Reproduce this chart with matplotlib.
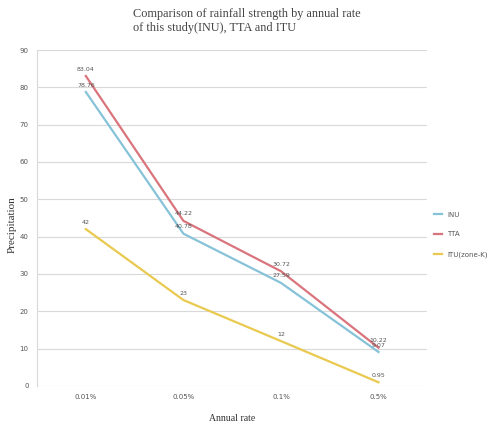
import matplotlib.pyplot as plt

rates = ["0.01%", "0.05%", "0.1%", "0.5%"]
inu = [78.76, 40.78, 27.59, 9.07]
tta = [83.04, 44.22, 30.72, 10.22]
itu = [42, 23, 12, 0.95]

series = [
    ("INU", inu, "#86c3d9"),
    ("TTA", tta, "#d9747c"),
    ("ITU(zone-K)", itu, "#e9c94f"),
]

fig = plt.figure(figsize=(4.94, 4.24), dpi=100)
ax = fig.add_axes([0.075, 0.09, 0.79, 0.792])

x = range(len(rates))
for name, vals, col in series:
    ax.plot(x, vals, color=col, lw=1.6, label=name)
    for xi, v in zip(x, vals):
        ax.annotate(f"{v:g}", (xi, v), xytext=(0, 5), textcoords="offset points",
                    ha="center", va="center", fontsize=4.5, color="#555555")

ax.set_xlim(-0.5, 3.5)
ax.set_ylim(0, 90)
ax.set_yticks(range(0, 91, 10))
ax.set_xticks(list(x))
ax.set_xticklabels(rates)
ax.tick_params(labelsize=5, colors="#555555", length=0, pad=6)
ax.grid(axis="y", color="#d9d9d9", lw=0.8)
ax.set_axisbelow(True)
for s in ["top", "right", "bottom"]:
    ax.spines[s].set_visible(False)
ax.spines["left"].set_color("#d9d9d9")

fig.text(0.025, 0.47, "Precipitation", family="Liberation Serif", fontsize=8,
         color="#333333", rotation=90, ha="center", va="center")
fig.text(0.47, 0.012, "Annual rate", family="Liberation Serif", fontsize=7,
         color="#333333", ha="center", va="center")

fig.text(0.27, 0.951, "Comparison of rainfall strength by annual rate\nof this study(INU), TTA and ITU",
         family="Liberation Serif", fontsize=8.8, color="#444444", ha="left", va="center", linespacing=1.25)

ax.legend(loc="center left", bbox_to_anchor=(1.0, 0.45), frameon=False, fontsize=5,
          handlelength=1.2, labelspacing=2.0, labelcolor="#555555")

fig.savefig("out.png", dpi=100)
